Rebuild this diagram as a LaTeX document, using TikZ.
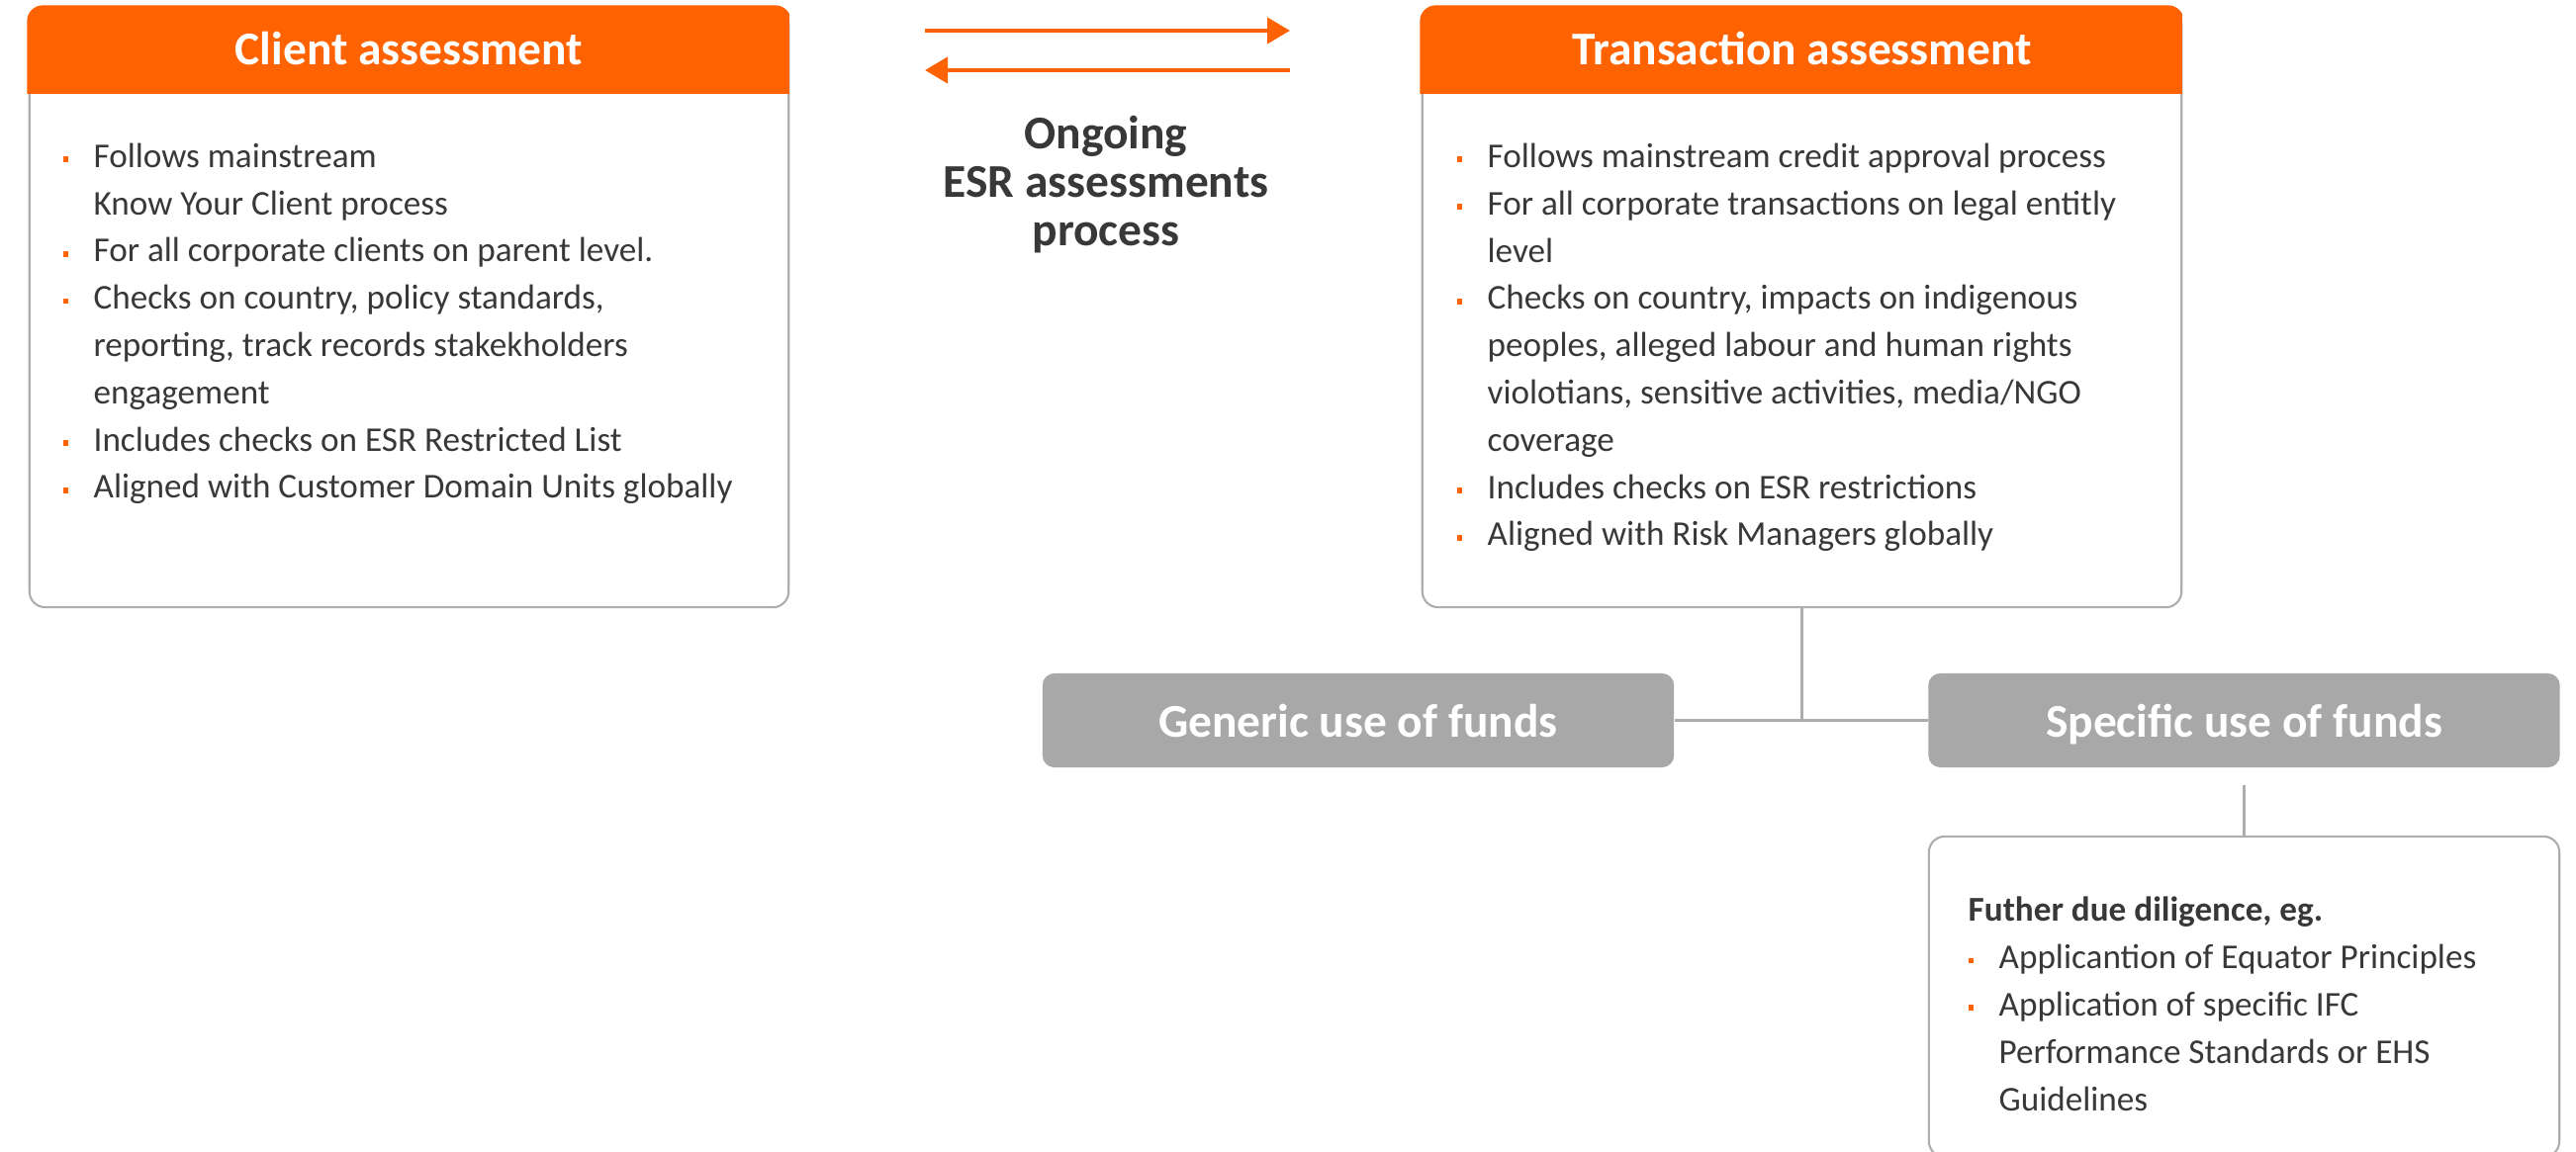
\documentclass[tikz,border=0pt]{standalone}
\usepackage{fontspec}
\setmainfont{Carlito}
\usepackage{xcolor}
\usepackage{tikz}
\usetikzlibrary{positioning,shapes,arrows.meta}

\definecolor{ingorange}{HTML}{FF6200}
\definecolor{inktext}{HTML}{383838}
\definecolor{boxline}{HTML}{ADADAD}
\definecolor{fundgray}{HTML}{A8A8A8}

\newcommand{\headfont}{\fontsize{13.5}{16}\selectfont\bfseries}
\newcommand{\bodyfont}{\fontsize{10}{13.6}\selectfont}
\newcommand{\bul}{\makebox[8.8pt][l]{\textcolor{ingorange}{\rule[1.5pt]{1.6pt}{1.6pt}}}}
\newcommand{\ind}{\hspace*{8.8pt}}

\begin{document}
\begin{tikzpicture}[
            x=0.01cm, y=-0.01cm,
            panel/.style={draw=boxline, line width=0.6pt, fill=white, rounded corners=0.16cm,
                minimum width=7.67cm, minimum height=6.06cm, inner sep=0pt},
            headtext/.style={text=white, font=\headfont, anchor=base},
            % multi-line texts sit on the baseline of their last line
            bodytext/.style={text=inktext, font=\bodyfont, align=left, anchor=base west, inner sep=0pt},
            fund/.style={fill=fundgray, rounded corners=0.12cm, minimum width=6.38cm,
                minimum height=0.95cm, text=white, font=\headfont, text depth=0pt},
            link/.style={draw=boxline, line width=0.7pt},
            flow/.style={draw=ingorange, line width=1.2pt, -{Triangle[length=0.23cm,width=0.26cm]}}
        ]
            \useasboundingbox (0,0) rectangle (2604,1165);
            \clip (0,0) rectangle (2604,1165);

            % Panels
            \node[panel] (client) at (413.5,311) {};
            \node[panel] (trans) at (1821.5,311) {};
            \foreach \p in {client,trans}{
                \begin{scope}
                    \clip[rounded corners=0.16cm] ([shift={(-0.4pt,-0.4pt)}]\p.south west) rectangle ([shift={(0.4pt,0.4pt)}]\p.north east);
                    \fill[ingorange] ([shift={(-1pt,1pt)}]\p.north west) rectangle ([yshift=-0.88cm]\p.north east);
                \end{scope}
            }
            \node[headtext] (clienthead) at (413.5,66) {Client assessment};
            \node[headtext] (transhead) at (1821.5,66) {Transaction assessment};

            % Panel texts
            \node[bodytext] (clienttext) at (63,504) {%
                \bul Follows mainstream\\
                \ind Know Your Client process\\
                \bul For all corporate clients on parent level.\\
                \bul Checks on country, policy standards,\\
                \ind reporting, track records stakekholders\\
                \ind engagement\\
                \bul Includes checks on ESR Restricted List\\
                \bul Aligned with Customer Domain Units globally};
            \node[bodytext] (transtext) at (1472,552) {%
                \bul Follows mainstream credit approval process\\
                \bul For all corporate transactions on legal entitly\\
                \ind level\\
                \bul Checks on country, impacts on indigenous\\
                \ind peoples, alleged labour and human rights\\
                \ind violotians, sensitive activities, media/NGO\\
                \ind coverage\\
                \bul Includes checks on ESR restrictions\\
                \bul Aligned with Risk Managers globally};

            % Ongoing process
            \coordinate (fwdstart) at (935,31);
            \coordinate (fwdend) at (1304,31);
            \coordinate (backstart) at (1304,71);
            \coordinate (backend) at (935,71);
            \draw[flow] (fwdstart) -- (fwdend);
            \draw[flow] (backstart) -- (backend);
            \node[text=inktext, font=\fontsize{13.5}{14}\selectfont\bfseries, align=center, anchor=base]
                (ongoing) at (1118,249) {Ongoing\\ESR assessments\\process};

            % Use of funds
            \node[fund] (generic) at (1373,728.5) {Generic use of funds};
            \node[fund] (specific) at (2268.5,728.5) {Specific use of funds};
            \node[panel, minimum width=6.37cm, minimum height=3.24cm] (diligence) at (2268.5,1008) {};
            \node[bodytext] (diligencetext) at (1989,1123) {%
                \textbf{Futher due diligence, eg.}\\
                \bul Applicantion of Equator Principles\\
                \bul Application of specific IFC\\
                \ind Performance Standards or EHS\\
                \ind Guidelines};

            % Edges
            \draw[link] (trans.south) -- (trans.south |- generic.east);
            \draw[link] (generic.east) -- (specific.west);
            \draw[link, shorten <=5pt] (specific.south) -- (diligence.north);
        \end{tikzpicture}
\end{document}
